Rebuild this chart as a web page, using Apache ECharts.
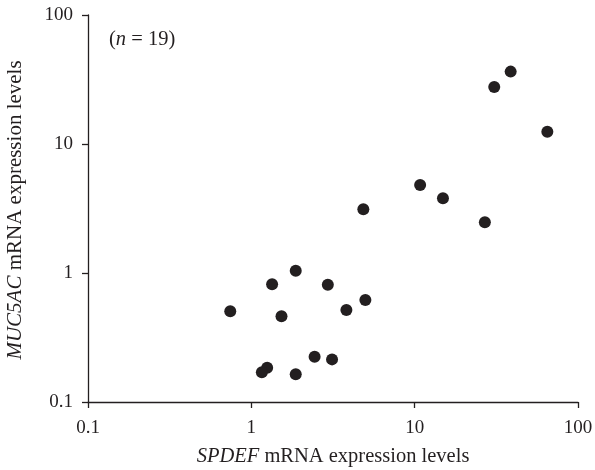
<!DOCTYPE html>
<html>
<head>
<meta charset="utf-8">
<script src="https://cdn.jsdelivr.net/npm/echarts@6/dist/echarts.min.js"></script>
<style>
  html, body { margin: 0; padding: 0; background: #fff; }
  #chart { width: 595px; height: 470px; }
</style>
</head>
<body>
<div id="chart"></div>
<script>
// SPDEF vs MUC5AC relative mRNA expression, one point per sample
const spdefLevels = [1.87, 1.34, 2.94, 0.743, 1.53, 3.82, 4.99, 2.44, 3.12, 1.25, 1.16, 1.87, 38.7, 30.7, 64.9, 10.8, 14.9, 4.85, 26.9];
const muc5acLevels = [1.04, 0.817, 0.812, 0.505, 0.462, 0.517, 0.618, 0.2245, 0.214, 0.1845, 0.170, 0.164, 36.4, 27.7, 12.45, 4.81, 3.79, 3.12, 2.47];
const sampleCount = 19;

const FONT = '"Liberation Serif", "DejaVu Serif", serif';
const INK = '#231f20';

const points = spdefLevels.map((x, i) => [x, muc5acLevels[i]]);

const logAxis = {
  type: 'log',
  logBase: 10,
  min: 0.1,
  max: 100,
  splitLine: { show: false },
  minorTick: { show: false },
  axisLine: { show: true, lineStyle: { color: INK, width: 1.3 } },
  axisTick: { show: true, inside: false, length: 6, lineStyle: { color: INK, width: 1.3 } },
  axisLabel: {
    color: INK, fontFamily: FONT, fontSize: 19,
    formatter: v => String(v)
  }
};

function nameStyle(size) {
  return {
    color: INK, fontFamily: FONT, fontSize: size,
    rich: { i: { fontStyle: 'italic', fontFamily: FONT, fontSize: size, color: INK } }
  };
}

const chart = echarts.init(document.getElementById('chart'), null, { renderer: 'canvas' });
chart.setOption({
  animation: false,
  backgroundColor: '#fff',
  grid: { left: 88, right: 17, top: 15, bottom: 68, containLabel: false, outerBoundsMode: 'none' },
  xAxis: Object.assign({}, logAxis, {
    axisLabel: Object.assign({}, logAxis.axisLabel, { margin: 17 }),
    name: '{i|SPDEF} mRNA expression levels',
    nameLocation: 'middle',
    nameGap: 44,
    nameTextStyle: nameStyle(20.5)
  }),
  yAxis: Object.assign({}, logAxis, {
    axisLabel: Object.assign({}, logAxis.axisLabel, { margin: 15 }),
    name: '{i|MUC5AC} mRNA expression levels',
    nameLocation: 'middle',
    nameGap: 62,
    nameRotate: 90,
    nameTextStyle: Object.assign(nameStyle(21), { padding: [0, 3, 0, 0] })
  }),
  graphic: [{
    type: 'text',
    left: 109,
    top: 29,
    style: {
      text: '({i|n} = ' + sampleCount + ')',
      font: '20.5px ' + FONT,
      fill: INK,
      rich: { i: { fontStyle: 'italic', fontFamily: FONT, fontSize: 20.5, fill: INK } }
    }
  }],
  series: [{
    type: 'scatter',
    data: points,
    symbol: 'circle',
    symbolSize: 12,
    itemStyle: { color: INK, opacity: 1 }
  }]
});
</script>
</body>
</html>
